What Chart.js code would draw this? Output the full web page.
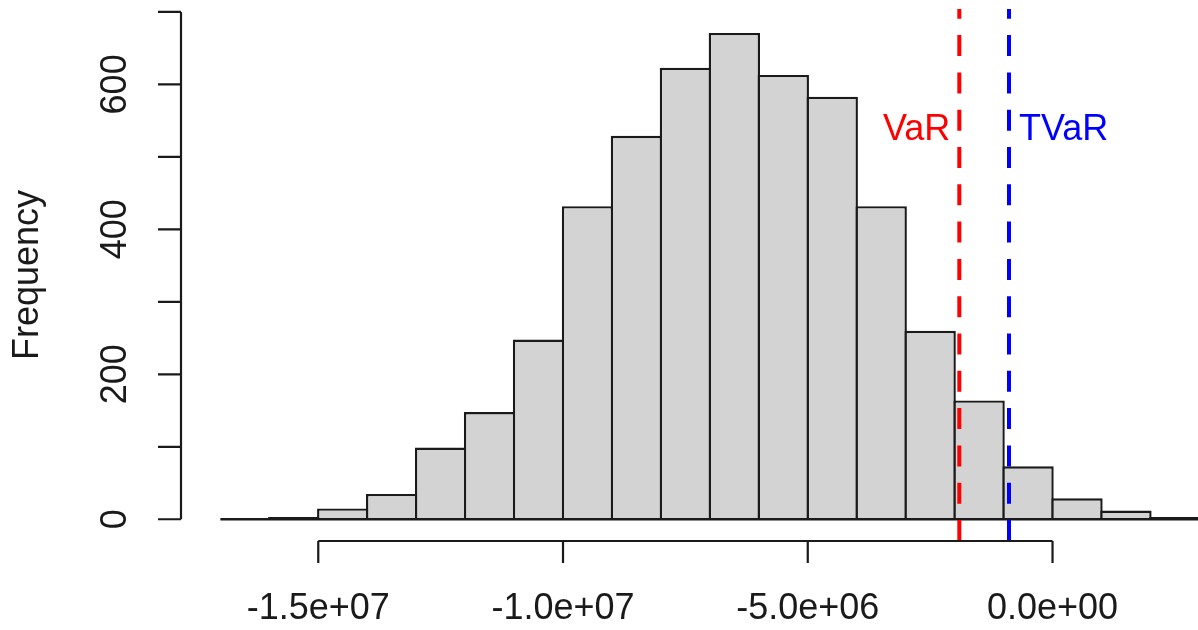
<!DOCTYPE html>
<html>
<head>
<meta charset="utf-8">
<script src="https://cdn.jsdelivr.net/npm/chart.js@4/dist/chart.umd.min.js"></script>
<style>
  html, body { margin: 0; padding: 0; background: #fff; }
  #wrap { width: 1198px; height: 630px; position: relative; }
</style>
</head>
<body>
<div id="wrap"><canvas id="myChart"></canvas></div>
<script>
// histogram bins (edges) and counts
const binEdges = [-17e6, -16e6, -15e6, -14e6, -13e6, -12e6, -11e6, -10e6, -9e6, -8e6,
                  -7e6, -6e6, -5e6, -4e6, -3e6, -2e6, -1e6, 0, 1e6, 2e6, 3e6]
const counts = [0, 3, 15, 35, 99, 148, 248, 432, 529, 623,
                671, 613, 583, 432, 260, 164, 73, 29, 12, 3]

// risk lines
const riskNames = ['VaR', 'TVaR']
const riskValues = [-1.904e6, -0.889e6]
const riskColors = ['#ff0000', '#0000ff']
const riskLabelY = 523

// axis ticks
const xTicks = [-1.5e7, -1.0e7, -5e6, 0]
const xTickLabels = ['-1.5e+07', '-1.0e+07', '-5.0e+06', '0.0e+00']
const yTicks = [0, 100, 200, 300, 400, 500, 600, 700]
const yTickLabels = [0, 200, 400, 600]
const yTitle = 'Frequency'

const font = '36px "Liberation Sans", Arial, sans-serif'
const ink = '#1a1a1a'
const edge = 2.4

const bars = counts.map((c, i) => ({x: (binEdges[i] + binEdges[i + 1]) / 2, y: c}))

const riskSets = riskValues.map((v, i) => ({
    type: 'line',
    data: [{x: v, y: -30}, {x: v, y: 704}],
    borderColor: riskColors[i],
    borderWidth: 4,
    borderDash: [21, 16.3],
    borderCapStyle: 'butt',
    pointRadius: 0,
    order: 0
}))

const axesPlugin = {
    id: 'rAxes',
    afterDatasetsDraw(chart) {
        const {ctx, chartArea, scales} = chart
        const x = scales.x, y = scales.y
        ctx.save()
        ctx.strokeStyle = ink
        ctx.fillStyle = ink
        ctx.lineWidth = 2.2
        ctx.font = font

        // y axis
        const ax = chartArea.left
        ctx.beginPath()
        ctx.moveTo(ax, y.getPixelForValue(yTicks[0]))
        ctx.lineTo(ax, y.getPixelForValue(yTicks[yTicks.length - 1]))
        yTicks.forEach(t => {
            const py = y.getPixelForValue(t)
            ctx.moveTo(ax, py)
            ctx.lineTo(ax - 23, py)
        })
        ctx.stroke()
        yTickLabels.forEach(t => {
            ctx.save()
            ctx.translate(126, y.getPixelForValue(t))
            ctx.rotate(-Math.PI / 2)
            ctx.textAlign = 'center'
            ctx.textBaseline = 'alphabetic'
            ctx.fillText(String(t), 0, 0)
            ctx.restore()
        })
        ctx.save()
        ctx.translate(38, (chartArea.top + chartArea.bottom) / 2)
        ctx.rotate(-Math.PI / 2)
        ctx.textAlign = 'center'
        ctx.fillText(yTitle, 0, 0)
        ctx.restore()

        // x axis
        const ay = chartArea.bottom
        ctx.beginPath()
        ctx.moveTo(x.getPixelForValue(xTicks[0]), ay)
        ctx.lineTo(x.getPixelForValue(xTicks[xTicks.length - 1]), ay)
        xTicks.forEach(t => {
            const px = x.getPixelForValue(t)
            ctx.moveTo(px, ay)
            ctx.lineTo(px, ay + 22)
        })
        ctx.stroke()
        ctx.textAlign = 'center'
        ctx.textBaseline = 'alphabetic'
        xTicks.forEach((t, i) => {
            ctx.fillText(xTickLabels[i], x.getPixelForValue(t), 619)
        })

        // risk labels
        riskValues.forEach((v, i) => {
            const px = x.getPixelForValue(v)
            ctx.fillStyle = riskColors[i]
            ctx.textAlign = i === 0 ? 'right' : 'left'
            ctx.fillText(riskNames[i], i === 0 ? px - 9 : px + 10, y.getPixelForValue(riskLabelY))
        })
        ctx.restore()
    }
}

new Chart(document.getElementById('myChart'), {
    type: 'bar',
    data: {
        datasets: [
            ...riskSets,
            {
                type: 'line',
                data: [{x: binEdges[0], y: 0}, {x: binEdges[binEdges.length - 1], y: 0}],
                borderColor: ink,
                borderWidth: edge,
                pointRadius: 0,
                order: 0
            },
            {
                type: 'bar',
                data: bars,
                backgroundColor: '#d3d3d3',
                borderColor: ink,
                borderWidth: edge,
                borderSkipped: 'start',
                barPercentage: 1 + edge / 48.95,
                categoryPercentage: 1,
                grouped: false,
                order: 1
            }
        ]
    },
    options: {
        responsive: true,
        maintainAspectRatio: false,
        animation: false,
        devicePixelRatio: 1,
        layout: {padding: {left: 181, top: 9, right: 0, bottom: 89}},
        plugins: {legend: {display: false}, tooltip: {enabled: false}},
        scales: {
            x: {type: 'linear', min: -17.804e6, max: 2.972e6, offset: false, display: false},
            y: {type: 'linear', min: -30, max: 704, display: false}
        }
    },
    plugins: [axesPlugin]
})
</script>
</body>
</html>
